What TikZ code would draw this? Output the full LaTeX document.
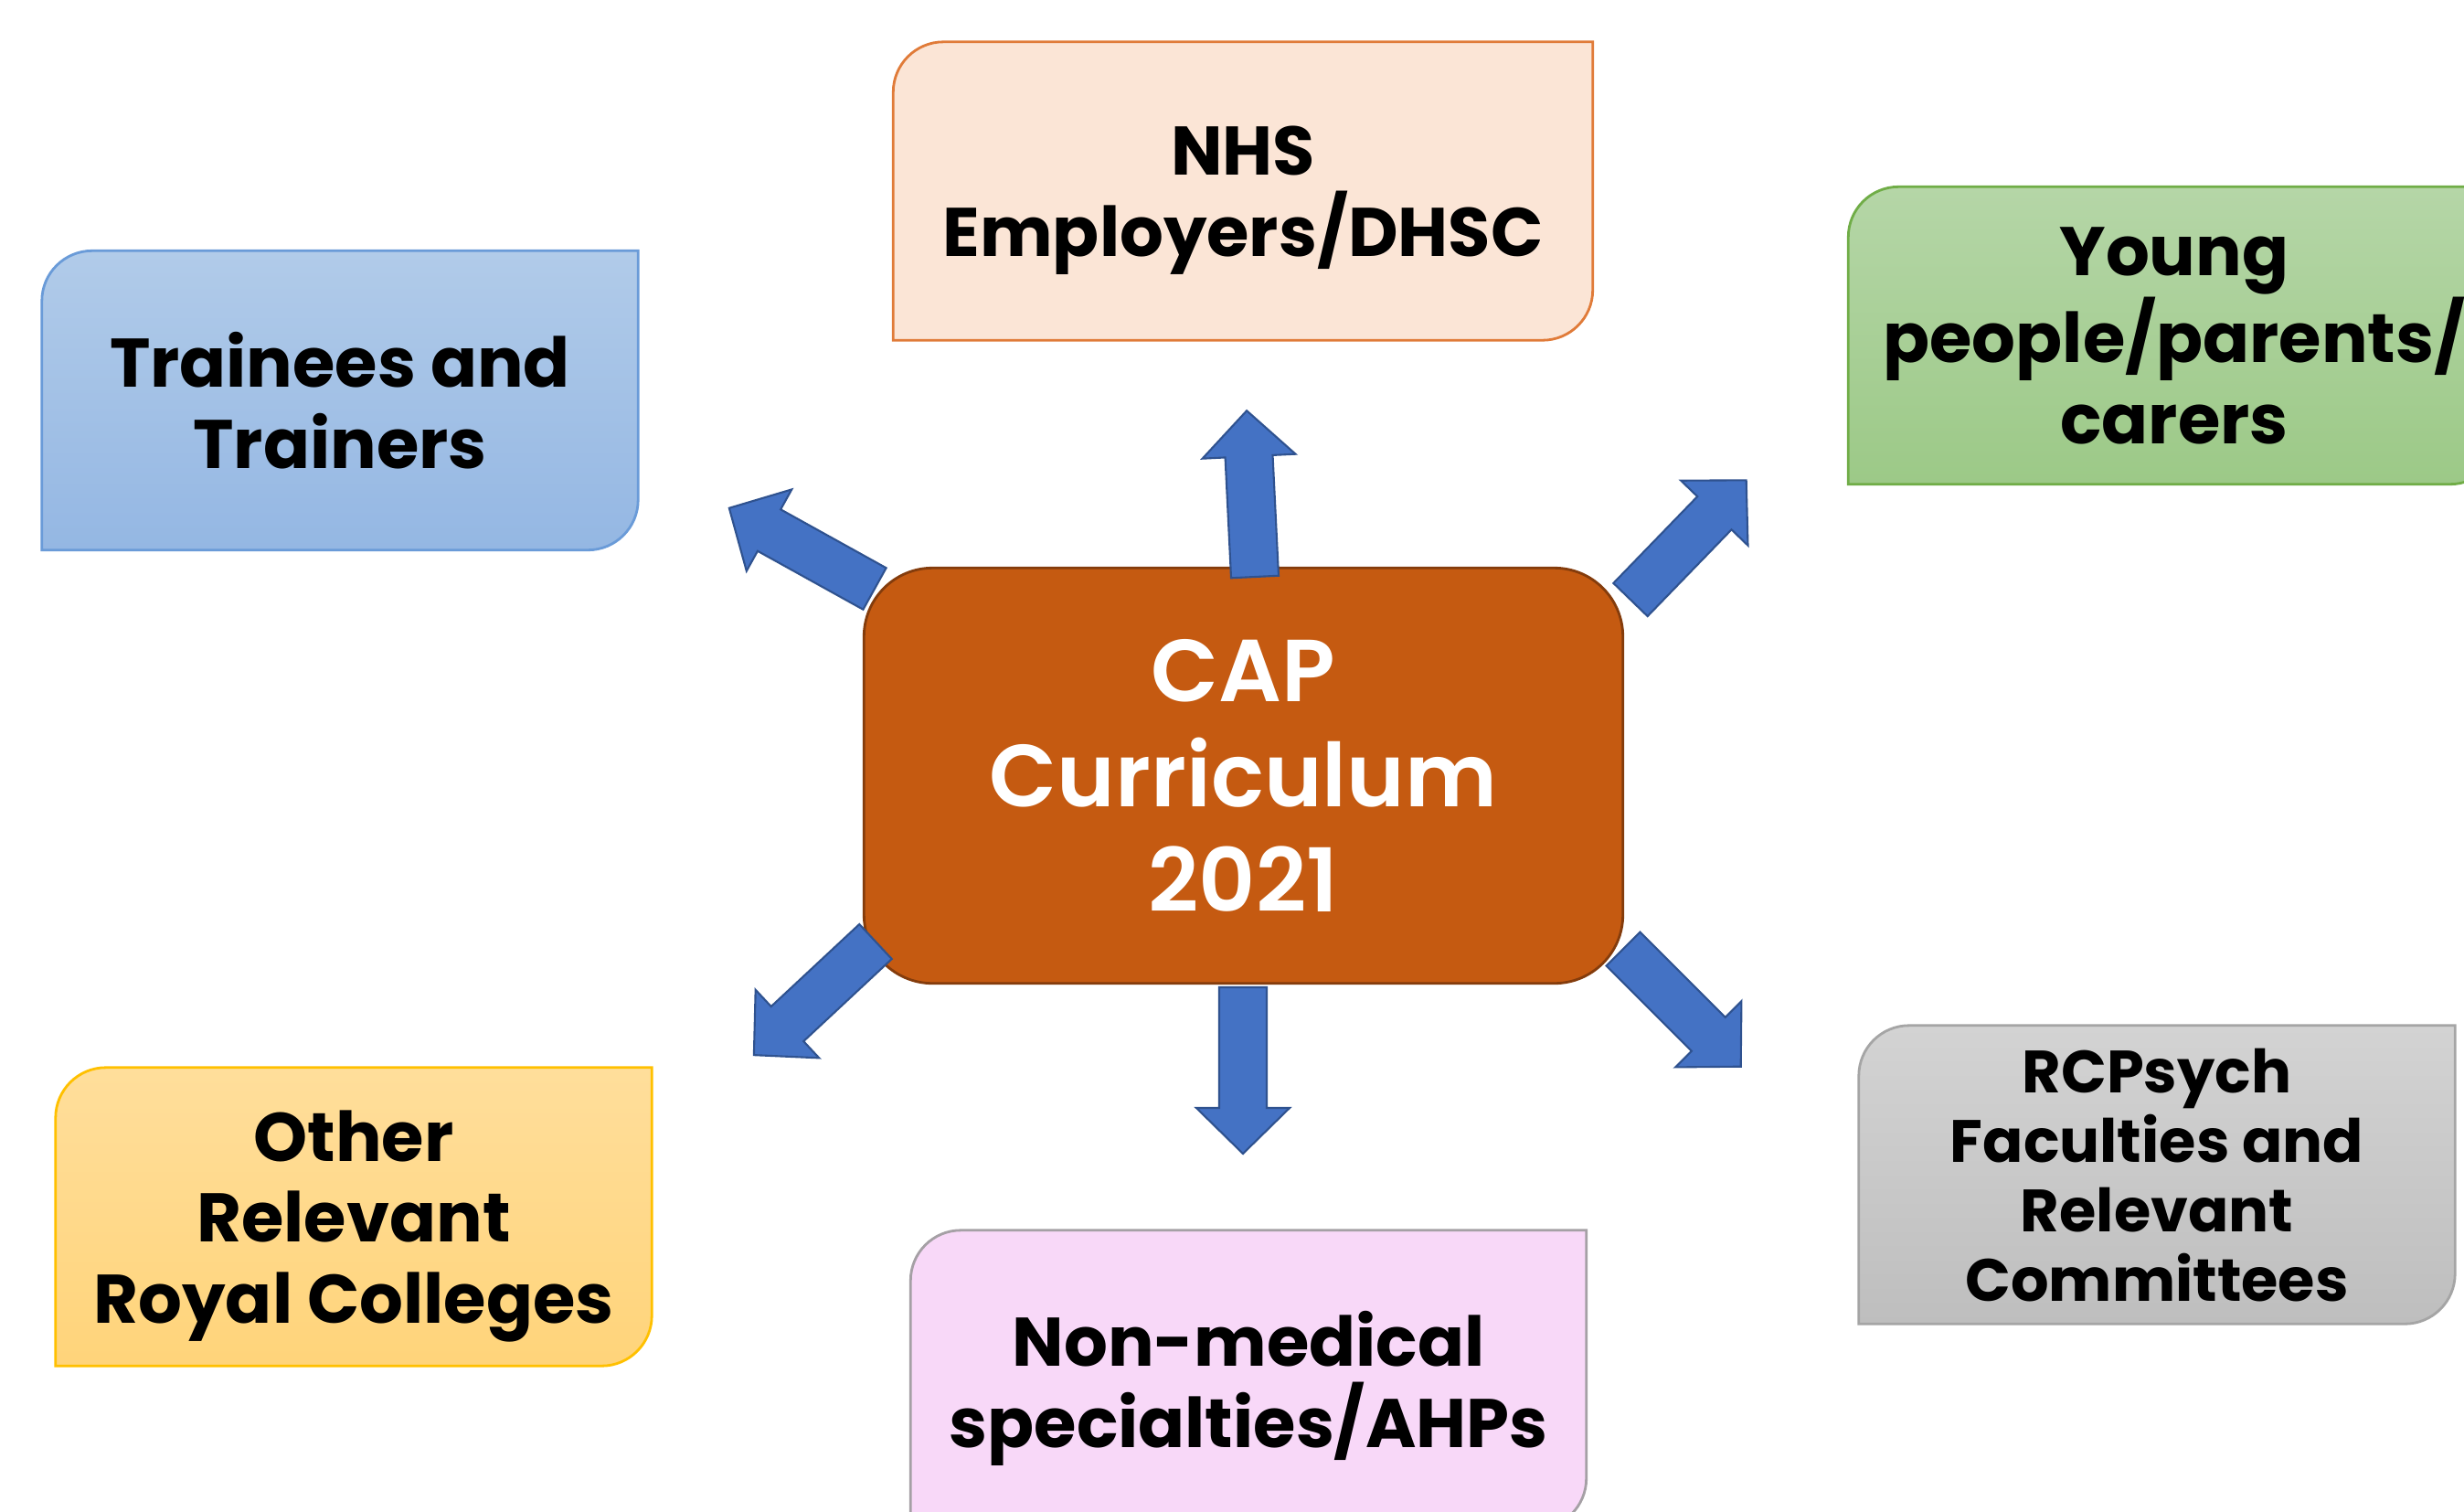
\documentclass[tikz,border=0pt]{standalone}
\usepackage{fontspec}
\setmainfont{Poppins}
\IfFontExistsTF{Poppins SemiBold}
  {\newfontfamily\centrefont{Poppins SemiBold}}
  {\newcommand\centrefont{\bfseries}}
\usetikzlibrary{calc,backgrounds}

% palette
\definecolor{arrowblue}{HTML}{4472C4}
\definecolor{arrowedge}{HTML}{2F528F}
\definecolor{capfill}{HTML}{C55A11}
\definecolor{capedge}{HTML}{843C0C}
\definecolor{blueTop}{HTML}{B1CBE9}
\definecolor{blueBot}{HTML}{94B7E3}
\definecolor{blueEdge}{HTML}{6A9BD8}
\definecolor{peachFill}{HTML}{FBE5D6}
\definecolor{peachEdge}{HTML}{E07B39}
\definecolor{greenTop}{HTML}{B5D6A7}
\definecolor{greenBot}{HTML}{9CC987}
\definecolor{greenEdge}{HTML}{70AD47}
\definecolor{goldTop}{HTML}{FFDE9B}
\definecolor{goldBot}{HTML}{FFD47A}
\definecolor{goldEdge}{HTML}{FFC000}
\definecolor{pinkFill}{HTML}{F8D8F8}
\definecolor{pinkEdge}{HTML}{A5A0A5}
\definecolor{greyTop}{HTML}{D3D3D3}
\definecolor{greyBot}{HTML}{BEBEBE}
\definecolor{greyEdge}{HTML}{A5A5A5}

\tikzset{
  outer/.style={align=center, inner sep=0pt, text=black, text depth=0pt,
    font=\bfseries\fontsize{21.4}{25.2}\selectfont},
  smallouter/.style={outer, font=\bfseries\fontsize{18.6}{21.6}\selectfont},
  centre/.style={align=center, inner sep=0pt, text=white,
    font=\centrefont\fontsize{27.4}{32.7}\selectfont},
  arrowbody/.style={fill=arrowblue, draw=arrowedge, line width=0.6pt, line join=miter},
  pics/blockarrow/.style={code={
    \draw[arrowbody] (0,-0.26) -- (1.32,-0.26) -- (1.32,-0.51) -- (1.82,0)
      -- (1.32,0.51) -- (1.32,0.26) -- (0,0.26) -- cycle;}},
}

% rectangle with rounded top-left and bottom-right corners behind a node
% #1 node, #2 edge colour, #3 top colour, #4 bottom colour
\newcommand\diagbox[4]{%
  \draw[line width=0.8pt, draw=#2, top color=#3, bottom color=#4]
    (#1.south west) -- ($(#1.north west)+(0,-0.55)$)
    arc[start angle=180, end angle=90, radius=0.55]
    -- (#1.north east) -- ($(#1.south east)+(0,0.55)$)
    arc[start angle=0, end angle=-90, radius=0.55] -- cycle;}

\begin{document}
\begin{tikzpicture}
\useasboundingbox (0,0) rectangle (26.96,-16.53);
\clip (0,0) rectangle (26.96,-16.53);

% outer groups
\node[outer, minimum width=6.51cm, minimum height=3.26cm] (trainees) at (3.72,-4.38) {Trainees and\\Trainers};
\node[outer, minimum width=7.64cm, minimum height=3.25cm] (nhs) at (13.60,-2.09) {NHS\\Employers/DHSC};
\node[outer, minimum width=7.12cm, minimum height=3.24cm] (young) at (23.79,-3.67) {Young\\people/parents/\\carers};
\node[outer, minimum width=6.51cm, minimum height=3.25cm] (other) at (3.87,-13.31) {Other\\Relevant\\Royal Colleges};
\node[outer, minimum width=7.38cm, minimum height=3.25cm] (nonmed) at (13.66,-15.09) {Non-medical\\specialties/AHPs};
\node[smallouter, minimum width=6.51cm, minimum height=3.25cm] (rcpsych) at (23.60,-12.85) {RCPsych\\Faculties and\\Relevant\\Committees};

% centre
\node[centre, minimum width=8.29cm, minimum height=4.53cm] (cap) at (13.605,-8.485) {CAP\\Curriculum\\2021};

\begin{scope}[on background layer]
  \diagbox{trainees}{blueEdge}{blueTop}{blueBot}
  \diagbox{nhs}{peachEdge}{peachFill}{peachFill}
  \diagbox{young}{greenEdge}{greenTop}{greenBot}
  \diagbox{other}{goldEdge}{goldTop}{goldBot}
  \diagbox{nonmed}{pinkEdge}{pinkFill}{pinkFill}
  \diagbox{rcpsych}{greyEdge}{greyTop}{greyBot}
  \draw[line width=0.8pt, draw=capedge, fill=capfill, rounded corners=0.75cm]
    (cap.south west) rectangle (cap.north east);
\end{scope}

% block arrows leaving the centre
\coordinate (upbase) at (13.73,-6.31);
\coordinate (ulbase) at (9.57,-6.44);
\coordinate (urbase) at (17.84,-6.56);
\coordinate (llbase) at (9.58,-10.30);
\coordinate (dnbase) at (13.60,-10.80);
\coordinate (lrbase) at (17.76,-10.38);
\pic[rotate=92.8] at (upbase) {blockarrow};
\pic[rotate=151] at (ulbase) {blockarrow};
\pic[rotate=45.9] at (urbase) {blockarrow};
\pic[rotate=223] at (llbase) {blockarrow};
\pic[rotate=270] at (dnbase) {blockarrow};
\pic[rotate=315] at (lrbase) {blockarrow};
\end{tikzpicture}
\end{document}
